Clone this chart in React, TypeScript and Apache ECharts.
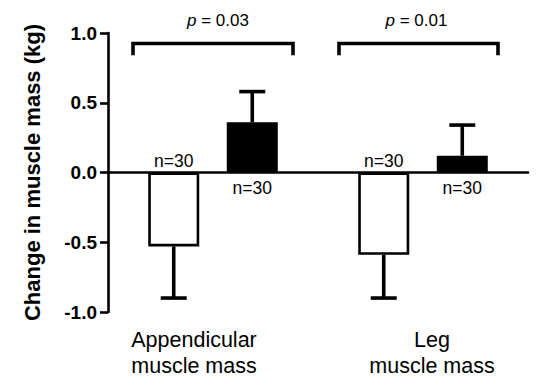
import React, { useEffect, useRef } from "react";
import * as echarts from "echarts";

// ---- data ----
const categories = ["Appendicular\nmuscle mass", "Leg\nmuscle mass"];
const placeboMeans = [-0.53, -0.59];
const placeboErrors = [0.37, 0.31];
const treatedMeans = [0.36, 0.12];
const treatedErrors = [0.22, 0.22];
const placeboN = [30, 30];
const treatedN = [30, 30];
const pValues = ["0.03", "0.01"];
const yMin = -1;
const yMax = 1;
const yInterval = 0.5;

// ---- layout / style ----
const FONT = "'Liberation Sans', Arial, Helvetica, sans-serif";
const BAR_W = 51;
const BAR_GAP = 0.54;
const BRACKET_TOP = 0.925;
const BRACKET_FOOT = 0.84;
const P_LABEL_Y = 1.09;
const bracketSpans = [
  [-80, 80],
  [-84, 75],
];
const pLabelOffsets = [5, -2];
const catLabelOffsets = [-19, 9];

export default function App() {
  const ref = useRef<HTMLDivElement>(null);

  useEffect(() => {
    if (!ref.current) return;
    const chart = echarts.init(ref.current, undefined, { renderer: "svg" });
    const half = (BAR_W * (1 + BAR_GAP)) / 2;

    const errData: number[][] = [];
    placeboMeans.forEach((m, i) => errData.push([i, m, placeboErrors[i], -1]));
    treatedMeans.forEach((m, i) => errData.push([i, m, treatedErrors[i], 1]));

    chart.setOption({
      animation: false,
      grid: { left: 108, right: 24, top: 33, bottom: 76 },
      xAxis: {
        type: "category",
        data: categories,
        axisLine: { onZero: true, lineStyle: { color: "#000", width: 2.6 } },
        axisTick: { show: false },
        axisLabel: { show: false },
        splitLine: { show: false },
      },
      yAxis: {
        type: "value",
        min: yMin,
        max: yMax,
        interval: yInterval,
        name: "Change in muscle mass (kg)",
        nameLocation: "middle",
        nameGap: 65,
        nameTextStyle: {
          fontFamily: FONT,
          fontSize: 22,
          fontWeight: "bold",
          color: "#000",
        },
        axisLine: { show: true, lineStyle: { color: "#000", width: 2.6 } },
        axisTick: { show: true, length: 8, lineStyle: { color: "#000", width: 2.6 } },
        axisLabel: {
          margin: 11,
          fontFamily: FONT,
          fontSize: 19,
          fontWeight: "bold",
          color: "#000",
          formatter: (v: number) => v.toFixed(1),
        },
        splitLine: { show: false },
      },
      series: [
        {
          type: "bar",
          data: placeboMeans,
          barWidth: BAR_W,
          barGap: BAR_GAP * 100 + "%",
          itemStyle: { color: "#fff", borderColor: "#000", borderWidth: 2.6 },
          label: {
            show: true,
            position: "top",
            distance: 3,
            formatter: (p: any) => "n=" + placeboN[p.dataIndex],
            fontFamily: FONT,
            fontSize: 17.5,
            color: "#000",
          },
        },
        {
          type: "bar",
          data: treatedMeans,
          barWidth: BAR_W,
          barGap: BAR_GAP * 100 + "%",
          itemStyle: { color: "#000", borderColor: "#000", borderWidth: 2.6 },
          label: {
            show: true,
            position: "bottom",
            distance: 6,
            formatter: (p: any) => "n=" + treatedN[p.dataIndex],
            fontFamily: FONT,
            fontSize: 17.5,
            color: "#000",
          },
        },
        {
          type: "custom",
          z: 5,
          data: errData,
          renderItem: (params: any, api: any) => {
            const cat = api.value(0);
            const mean = api.value(1);
            const err = api.value(2);
            const side = api.value(3);
            const base = api.coord([cat, mean]);
            const end = api.coord([cat, mean + Math.sign(mean) * err]);
            const x = base[0] + side * half;
            const st = { stroke: "#000", lineWidth: 3.6 };
            return {
              type: "group",
              children: [
                { type: "line", shape: { x1: x, y1: base[1], x2: x, y2: end[1] }, style: st },
                { type: "line", shape: { x1: x - 13, y1: end[1], x2: x + 13, y2: end[1] }, style: st },
              ],
            };
          },
        },
      ],
    });

    const px = (c: number, v: number) =>
      chart.convertToPixel({ xAxisIndex: 0, yAxisIndex: 0 }, [c, v]) as number[];
    const graphic: any[] = [];
    categories.forEach((name, i) => {
      const top = px(i, BRACKET_TOP);
      const foot = px(i, BRACKET_FOOT);
      const x1 = top[0] + bracketSpans[i][0];
      const x2 = top[0] + bracketSpans[i][1];
      graphic.push({
        type: "polyline",
        shape: {
          points: [
            [x1, foot[1]],
            [x1, top[1]],
            [x2, top[1]],
            [x2, foot[1]],
          ],
        },
        style: { stroke: "#000", lineWidth: 3.6, fill: null, lineJoin: "miter" },
      });
      const pl = px(i, P_LABEL_Y);
      graphic.push({
        type: "text",
        x: (x1 + x2) / 2 + pLabelOffsets[i],
        y: pl[1],
        style: {
          text: "{i|p} = " + pValues[i],
          align: "center",
          verticalAlign: "middle",
          fontFamily: FONT,
          fontSize: 17,
          fill: "#000",
          rich: {
            i: { fontStyle: "italic", fontFamily: FONT, fontSize: 17, fill: "#000" },
          },
        },
      });
      const bottom = px(i, yMin);
      graphic.push({
        type: "text",
        x: bottom[0] + catLabelOffsets[i],
        y: bottom[1] + 41,
        style: {
          text: name,
          align: "center",
          verticalAlign: "middle",
          fontFamily: FONT,
          fontSize: 21.5,
          lineHeight: 26,
          fill: "#000",
        },
      });
    });
    chart.setOption({ graphic });

    return () => chart.dispose();
  }, []);

  return (
    <div
      ref={ref}
      style={{ position: "fixed", left: 0, top: 0, width: 552, height: 388, background: "#fff" }}
    />
  );
}
